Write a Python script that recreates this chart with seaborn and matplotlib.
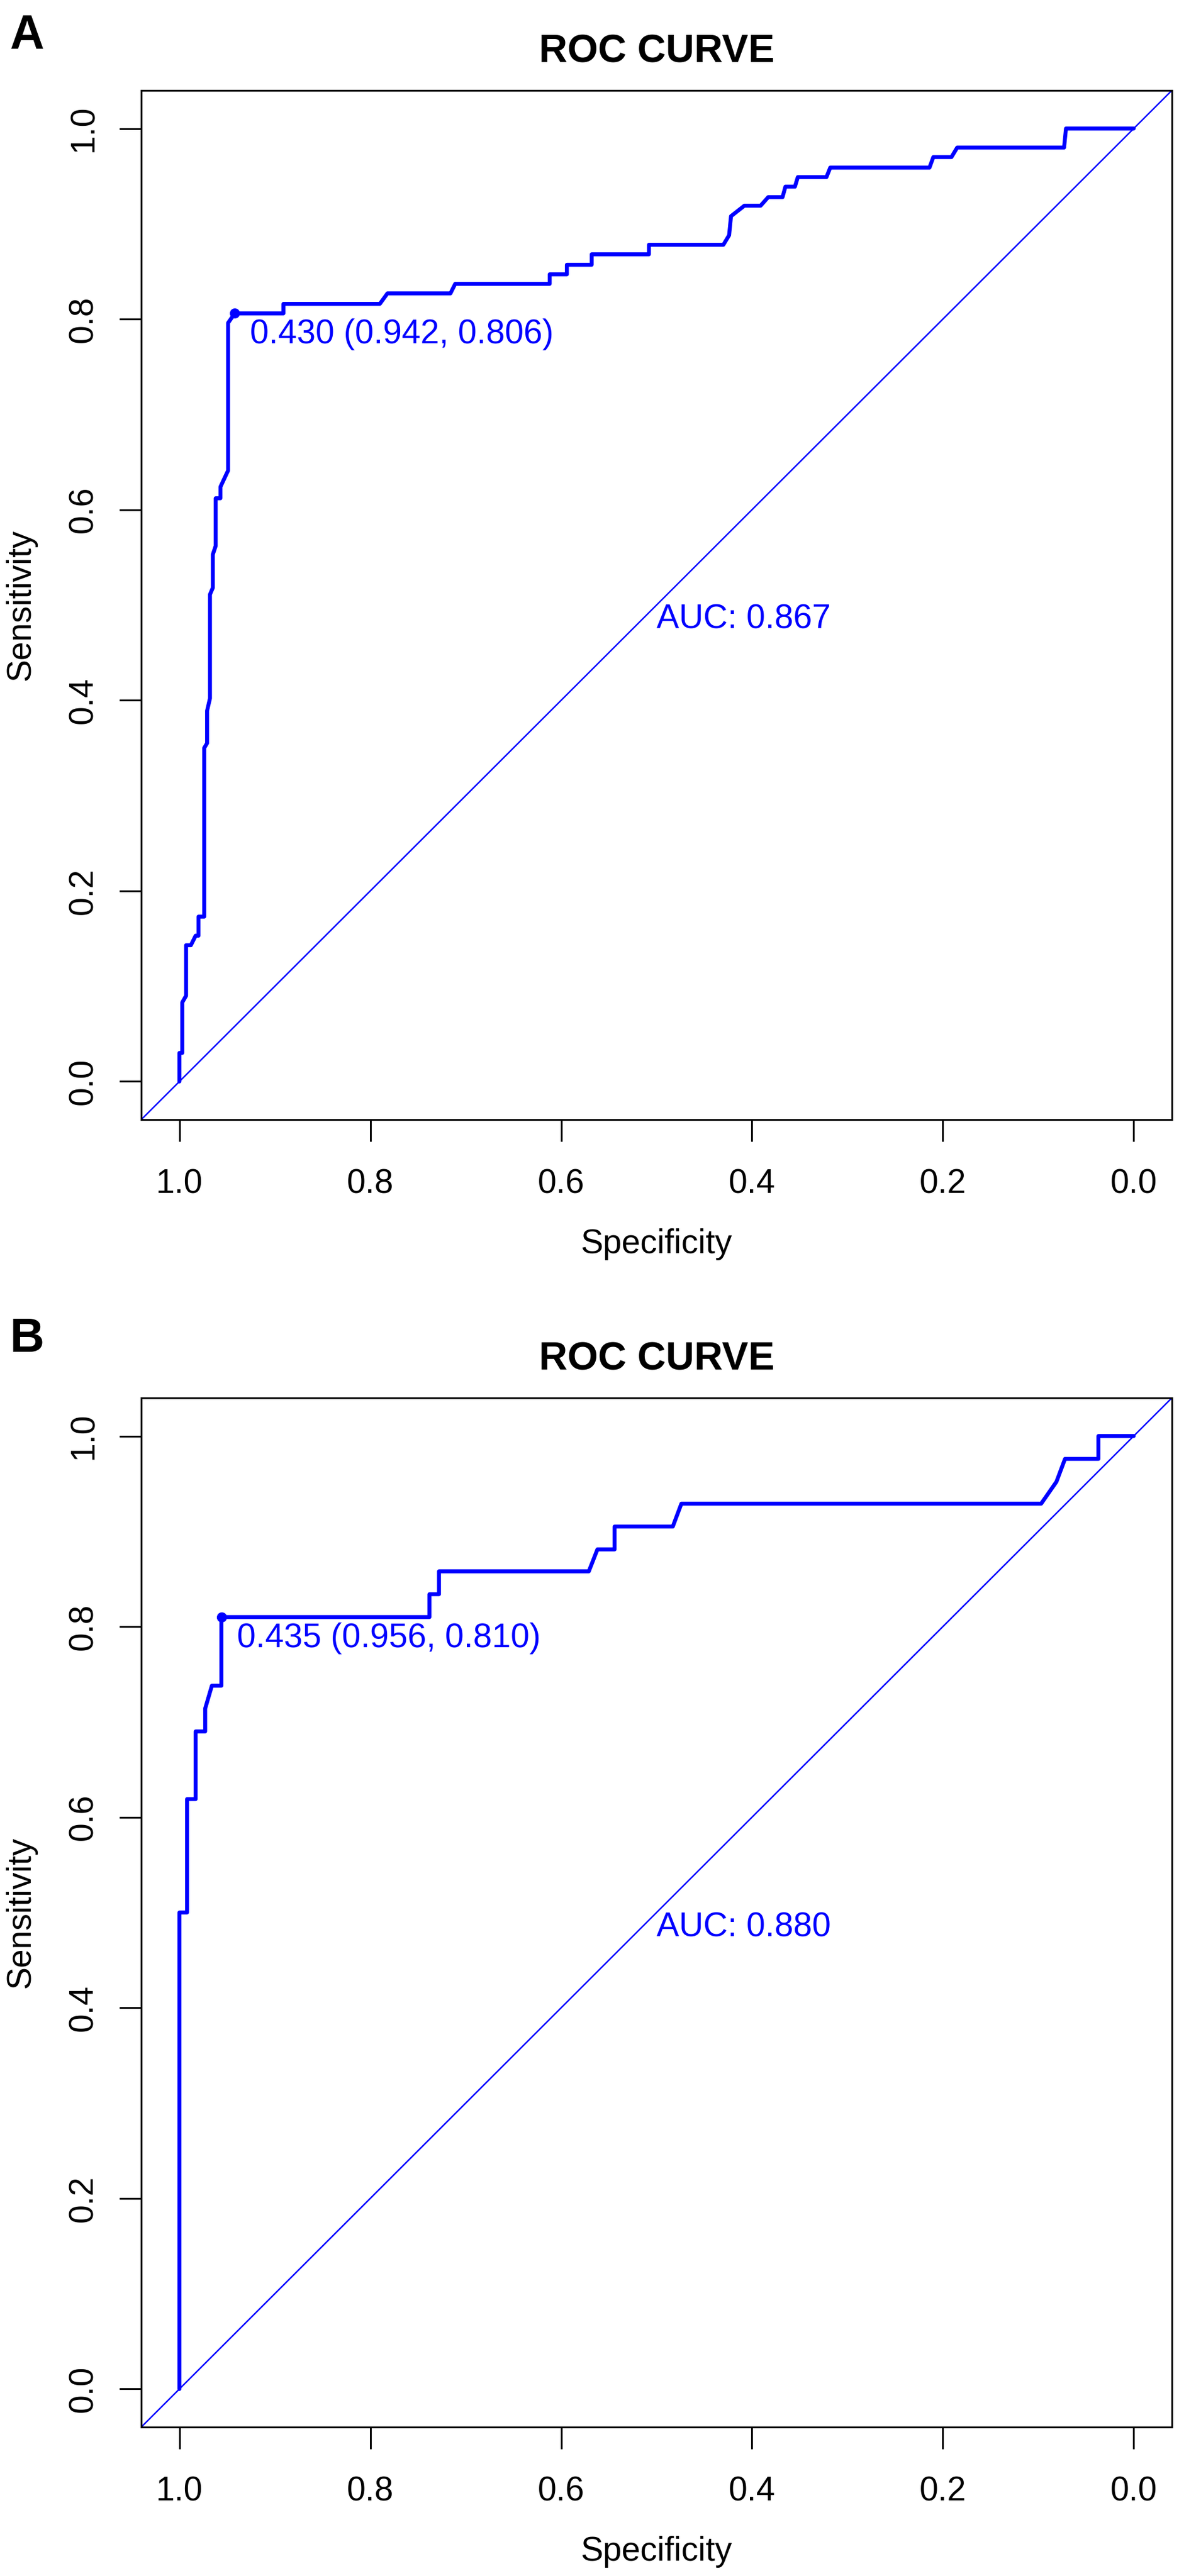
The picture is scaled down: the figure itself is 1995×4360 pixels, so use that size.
import pandas as pd
import matplotlib
matplotlib.use('Agg')
import matplotlib.pyplot as plt
import seaborn as sns

# panel A: ROC path (specificity, sensitivity)
spec_a = [1.000, 1.000, 0.997, 0.997, 0.993, 0.993, 0.988, 0.983, 0.980, 0.980,
          0.974, 0.974, 0.971, 0.971, 0.968, 0.968, 0.965, 0.965, 0.962, 0.962,
          0.957, 0.957, 0.950, 0.949, 0.949, 0.942, 0.891, 0.891, 0.790, 0.782,
          0.716, 0.711, 0.612, 0.612, 0.594, 0.594, 0.568, 0.568, 0.508, 0.508,
          0.430, 0.424, 0.422, 0.408, 0.391, 0.383, 0.368, 0.365, 0.355, 0.352,
          0.322, 0.318, 0.214, 0.210, 0.191, 0.185, 0.073, 0.071, 0.000]
sens_a = [0.000, 0.030, 0.030, 0.083, 0.090, 0.143, 0.143, 0.153, 0.153, 0.173,
          0.173, 0.350, 0.355, 0.389, 0.402, 0.511, 0.518, 0.553, 0.562, 0.612,
          0.612, 0.624, 0.639, 0.641, 0.796, 0.806, 0.806, 0.816, 0.816, 0.827,
          0.827, 0.837, 0.837, 0.847, 0.847, 0.857, 0.857, 0.868, 0.868, 0.878,
          0.878, 0.888, 0.908, 0.919, 0.919, 0.928, 0.928, 0.939, 0.939, 0.949,
          0.949, 0.959, 0.959, 0.970, 0.970, 0.980, 0.980, 1.000, 1.000]

# panel B
spec_b = [1.000, 1.000, 0.992, 0.992, 0.983, 0.983, 0.973, 0.973, 0.966, 0.956,
          0.956, 0.738, 0.738, 0.728, 0.728, 0.571, 0.562, 0.544, 0.544, 0.483,
          0.474, 0.097, 0.081, 0.072, 0.037, 0.037, 0.000]
sens_b = [0.000, 0.500, 0.500, 0.619, 0.619, 0.690, 0.690, 0.714, 0.738, 0.738,
          0.810, 0.810, 0.834, 0.834, 0.858, 0.858, 0.881, 0.881, 0.905, 0.905,
          0.929, 0.929, 0.952, 0.976, 0.976, 1.000, 1.000]

panels = ['A', 'B']
best_thr = [0.430, 0.435]
best_spec = [0.942, 0.956]
best_sens = [0.806, 0.810]
auc = [0.867, 0.880]
ticks = [0.0, 0.2, 0.4, 0.6, 0.8, 1.0]

sns.set_theme(style='white')
plt.rcParams['font.family'] = ['Liberation Sans', 'DejaVu Sans']
plt.rcParams['text.color'] = 'black'
plt.rcParams['axes.labelcolor'] = 'black'
plt.rcParams['axes.titlecolor'] = 'black'

W, H, DPI = 1995, 4360, 200
fig = plt.figure(figsize=(W / DPI, H / DPI), dpi=DPI)

blue = '#0000FF'
box_top = [153, 2366]
box_bot = [1895, 4108]
box_left, box_right = 239, 1983
label_base = [82, 2288]

curves = [(spec_a, sens_a), (spec_b, sens_b)]

for i in range(2):
    ax = fig.add_axes([box_left / W, 1 - box_bot[i] / H,
                       (box_right - box_left) / W, (box_bot[i] - box_top[i]) / H])
    df = pd.DataFrame({'spec': curves[i][0], 'sens': curves[i][1]})

    ax.axline((1, 0), (0, 1), color=blue, lw=0.9)
    sns.lineplot(data=df, x='spec', y='sens', sort=False, estimator=None,
                 color=blue, lw=2.4, ax=ax)
    sns.scatterplot(x=[best_spec[i]], y=[best_sens[i]], color=blue, s=38,
                    linewidth=0, ax=ax, zorder=5)

    ax.annotate(f'{best_thr[i]:.3f} ({best_spec[i]:.3f}, {best_sens[i]:.3f})',
                xy=(best_spec[i], best_sens[i]), xytext=(26, -51),
                textcoords='offset pixels', ha='left', va='baseline',
                color=blue, fontsize=20.5)
    ax.annotate(f'AUC: {auc[i]:.3f}', xy=(0.5, 0.5), xytext=(0, -40),
                textcoords='offset pixels', ha='left', va='baseline',
                color=blue, fontsize=20.5)

    ax.set_xlim(1.04, -0.04)
    ax.set_ylim(-0.04, 1.04)
    ax.set_xticks(ticks)
    ax.set_yticks(ticks)
    ax.set_xticklabels([f'{t:.1f}' for t in ticks])
    ax.set_yticklabels([f'{t:.1f}' for t in ticks], rotation=90, va='center')

    ax.tick_params(axis='both', direction='out', length=13.3, width=1.1,
                   color='black', labelsize=20.5, labelcolor='black',
                   bottom=True, left=True)
    ax.tick_params(axis='x', pad=16.5)
    ax.tick_params(axis='y', pad=12)
    for sp in ax.spines.values():
        sp.set_color('black')
        sp.set_linewidth(1.1)

    ax.set_xlabel('Specificity', fontsize=20.5, color='black')
    ax.set_ylabel('Sensitivity', fontsize=20.5, color='black')
    ax.xaxis.set_label_coords(0.5, -0.1056)
    ax.yaxis.set_label_coords(-0.101, 0.5)
    ax.set_title('ROC CURVE', fontsize=24, fontweight='bold', pad=17,
                 color='black')

    fig.text(17 / W, 1 - label_base[i] / H, panels[i], fontsize=29,
             fontweight='bold', ha='left', va='baseline', color='black')

fig.savefig('out.png', dpi=DPI)
